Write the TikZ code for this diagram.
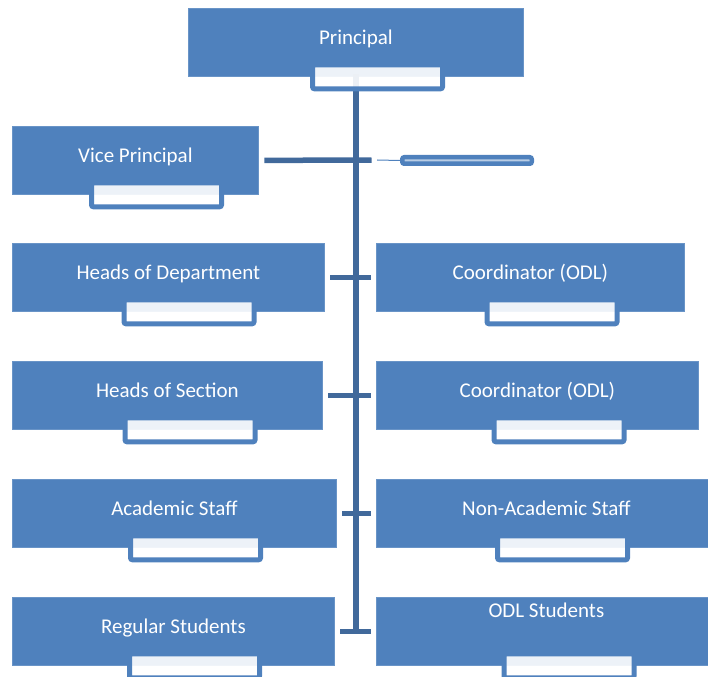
\documentclass[tikz,border=0pt]{standalone}
\usepackage{fontspec}
\setmainfont{Carlito}
\definecolor{boxblue}{HTML}{4F81BD}
\definecolor{lineblue}{HTML}{41699B}
\tikzset{
  box/.style={rectangle, fill=boxblue, draw=boxblue!85!white, line width=0.8pt,
    text=white, font=\fontsize{21}{25}\selectfont, minimum height=68pt,
    text height=15pt, text depth=11pt, inner sep=0pt, anchor=north west},
  subbox/.style={rectangle, rounded corners=2pt, draw=boxblue, line width=5pt,
    fill=white, fill opacity=0.9, minimum width=130pt, minimum height=24pt, inner sep=0pt},
  asstbox/.style={rectangle, rounded corners=2pt, draw=boxblue, line width=4.5pt,
    fill=boxblue!40!white, minimum width=129.5pt, minimum height=6.5pt, inner sep=0pt},
  link/.style={lineblue, line width=5.5pt, shorten <=5.5pt, shorten >=5.5pt},
}
\begin{document}
\begin{tikzpicture}[x=1pt,y=-1pt]
  \clip (0,0) rectangle (708,676);

  % Top of the chart
  \node[box, minimum width=335pt] (principal) at (188,8) {Principal};
  \node[box, minimum width=246pt] (vp) at (12,126) {Vice Principal};
  \node[asstbox] (asst) at (467,160.5) {};

  % Boxes left and right of the spine
  \foreach \name/\x/\top/\w/\txt in {hod/12/243/312/{Heads of Department},
      coordA/376/243/308/{Coordinator (ODL)}, hos/12/361/310/{Heads of Section},
      coordB/376/361/322/{Coordinator (ODL)}, acad/12/479/324/{Academic Staff},
      nonacad/376/479/340/{Non-Academic Staff}, reg/12/597/322/{Regular Students}} {
    \node[box, minimum width=\w pt] (\name) at (\x,\top) {\txt};
  };
  \node[box, minimum width=340pt, text depth=43pt] (odl) at (376,597) {ODL Students};

  % Spine and connectors
  \draw[lineblue, line width=5.5pt, line cap=rect] (principal.south) -- (principal.south |- reg.east);
  \coordinate (vp-end) at (377,160);
  \draw[link] (vp.east) -- (vp-end);
  \draw[boxblue, line width=1pt] (vp-end) -- (asst.west);
  \foreach \l/\r in {hod/coordA, hos/coordB, acad/nonacad, reg/odl} {
    \draw[link] (\l.east) -- (\r.west);
  };

  % Empty name boxes under each title
  \foreach \name/\dx in {principal/189.5, vp/144.5, hod/177, coordA/176, hos/178,
      coordB/183, acad/183.5, nonacad/186.5, reg/182.5, odl/193} {
    \node[subbox] (\name-sub) at ([xshift=\dx pt]\name.south west) {};
  };
\end{tikzpicture}
\end{document}
